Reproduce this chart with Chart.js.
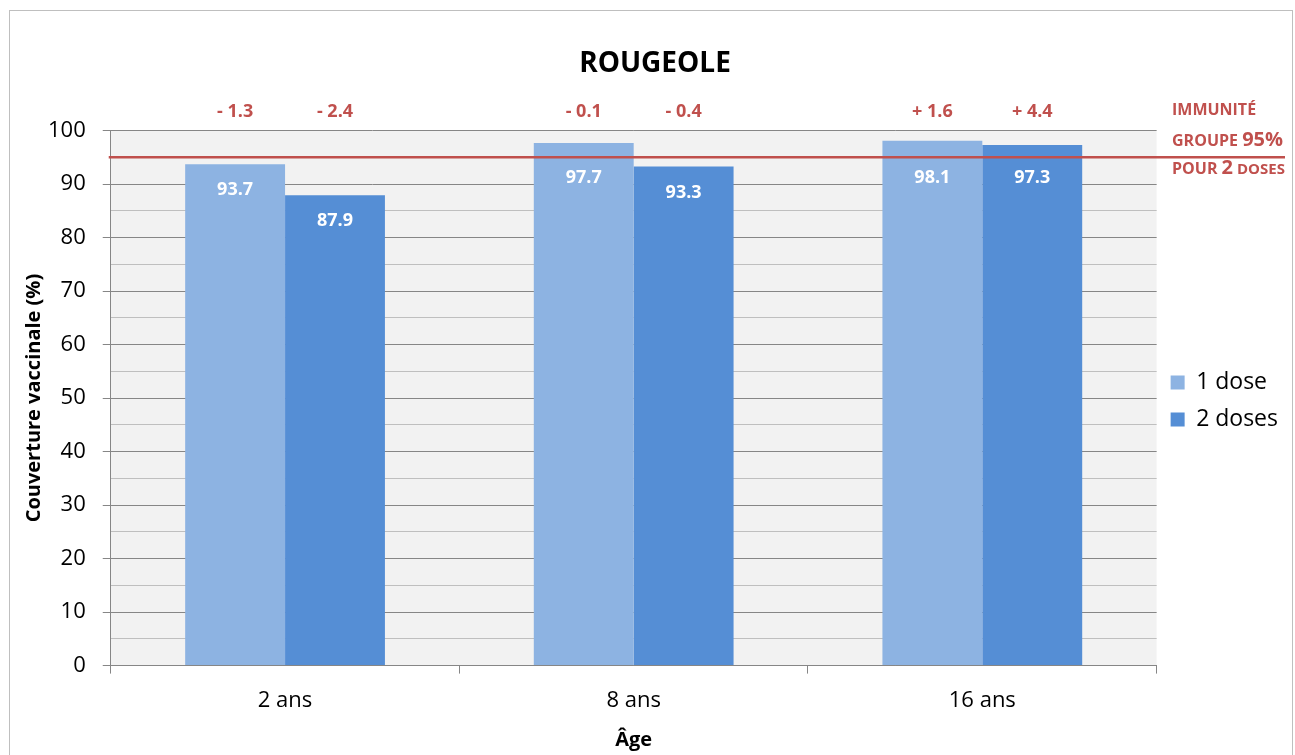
<!DOCTYPE html>
<html>
<head>
<meta charset="utf-8">
<script src="https://cdn.jsdelivr.net/npm/chart.js@4.4.0/dist/chart.umd.min.js"></script>
<style>
  html,body{margin:0;padding:0;background:#fff;}
  #wrap{position:relative;width:1295px;height:755px;}
</style>
</head>
<body>
<div id="wrap"><canvas id="c" width="1295" height="755"></canvas></div>
<script>
// --- data ---
const ages = ['2 ans', '8 ans', '16 ans'];
const oneDose = [93.7, 97.7, 98.1];
const twoDoses = [87.9, 93.3, 97.3];
const diffOne = ['- 1.3', '- 0.1', '+ 1.6'];
const diffTwo = ['- 2.4', '- 0.4', '+ 4.4'];
const seuil = 95;

const RED = '#c0504d';
const FONT = '"Open Sans", "Liberation Sans", sans-serif';

// fond gris de la zone de tracé + cadre
const bgPlugin = {
  id: 'bg',
  beforeDraw(chart){
    const {ctx, chartArea:a} = chart;
    ctx.save();
    ctx.fillStyle = '#f2f2f2';
    ctx.fillRect(a.left, a.top, a.right - a.left, a.bottom - a.top);
    ctx.strokeStyle = '#bfbfbf'; ctx.lineWidth = 1;
    ctx.strokeRect(9.5, 10.5, 1283, 760);
    ctx.restore();
  }
};

// étiquettes, ligne 95% et annotation
const labelsPlugin = {
  id: 'labels',
  afterDatasetsDraw(chart){
    const {ctx, chartArea:a} = chart;
    const y = chart.scales.y;
    const ly = y.getPixelForValue(seuil);
    ctx.save();
    // valeurs dans les barres (sous la ligne 95% si la barre la dépasse)
    ctx.font = 'bold 18px ' + FONT;
    ctx.fillStyle = '#fff';
    ctx.textAlign = 'center'; ctx.textBaseline = 'middle';
    [0,1].forEach(d=>{
      chart.getDatasetMeta(d).data.forEach((bar,i)=>{
        const v = chart.data.datasets[d].data[i];
        const ty = bar.y < ly ? ly + 21 : bar.y + 26;
        ctx.fillText(v.toFixed(1), bar.x, ty);
      });
    });
    // écarts au-dessus
    ctx.font = 'bold 18px ' + FONT;
    ctx.fillStyle = RED;
    const diffs = [diffOne, diffTwo];
    [0,1].forEach(d=>{
      chart.getDatasetMeta(d).data.forEach((bar,i)=>{
        ctx.fillText(diffs[d][i], bar.x, 112);
      });
    });
    // ligne immunité de groupe
    ctx.strokeStyle = RED; ctx.lineWidth = 2.5;
    ctx.beginPath(); ctx.moveTo(a.left - 2, ly); ctx.lineTo(1285, ly); ctx.stroke();
    // annotation
    ctx.textAlign = 'left'; ctx.textBaseline = 'alphabetic';
    const runs = [
      [[ 'IMMUNITÉ', 16 ]],
      [[ 'GROUPE ', 16 ], [ '95%', 20 ]],
      [[ 'POUR ', 16 ], [ '2', 20 ], [ ' DOSES', 15 ]]
    ];
    const baseY = [115, 146, 174];
    runs.forEach((line, k)=>{
      let x = 1172;
      line.forEach(([t, s])=>{
        ctx.font = 'bold ' + s + 'px ' + FONT;
        ctx.fillText(t, x, baseY[k]);
        x += ctx.measureText(t).width;
      });
    });
    ctx.restore();
  }
};

new Chart(document.getElementById('c'), {
  type: 'bar',
  data: {
    labels: ages,
    datasets: [
      { label: '1 dose', data: oneDose, backgroundColor: '#8db3e2' },
      { label: '2 doses', data: twoDoses, backgroundColor: '#558ed5' }
    ]
  },
  options: {
    responsive: false, animation: false,
    devicePixelRatio: 1,
    categoryPercentage: 0.573, barPercentage: 1,
    layout: { padding: { top: 47, left: 22, right: 7, bottom: 0 } },
    plugins: {
      title: {
        display: true, text: 'ROUGEOLE', color: '#000',
        font: { family: FONT, size: 28, weight: 'bold' },
        padding: { top: 0, bottom: 50 }
      },
      legend: {
        position: 'right',
        labels: {
          boxWidth: 14, boxHeight: 14, padding: 14, color: '#000',
          font: { family: FONT, size: 23 }
        }
      },
      tooltip: { enabled: false }
    },
    scales: {
      x: {
        grid: { drawOnChartArea: false, offset: true, color: '#868686', tickLength: 8 },
        border: { color: '#868686' },
        ticks: { color: '#000', padding: 14, font: { family: FONT, size: 22 } },
        title: { display: true, text: 'Âge', color: '#000', font: { family: FONT, size: 20, weight: 'bold' }, padding: { top: 0, bottom: 3 } }
      },
      y: {
        min: 0, max: 100,
        ticks: {
          stepSize: 5, autoSkip: false, color: '#000', padding: 17,
          font: { family: FONT, size: 22 },
          callback: v => v % 10 === 0 ? v : ''
        },
        grid: {
          color: c => c.tick && c.tick.value % 10 === 0 ? '#868686' : '#bfbfbf',
          tickColor: c => c.tick && c.tick.value % 10 === 0 ? '#868686' : 'transparent',
          tickLength: 8
        },
        border: { color: '#868686' },
        title: { display: true, text: 'Couverture vaccinale (%)', color: '#000', font: { family: FONT, size: 20, weight: 'bold' }, padding: { top: 0, bottom: -15 } }
      }
    }
  },
  plugins: [bgPlugin, labelsPlugin]
});
</script>
</body>
</html>
